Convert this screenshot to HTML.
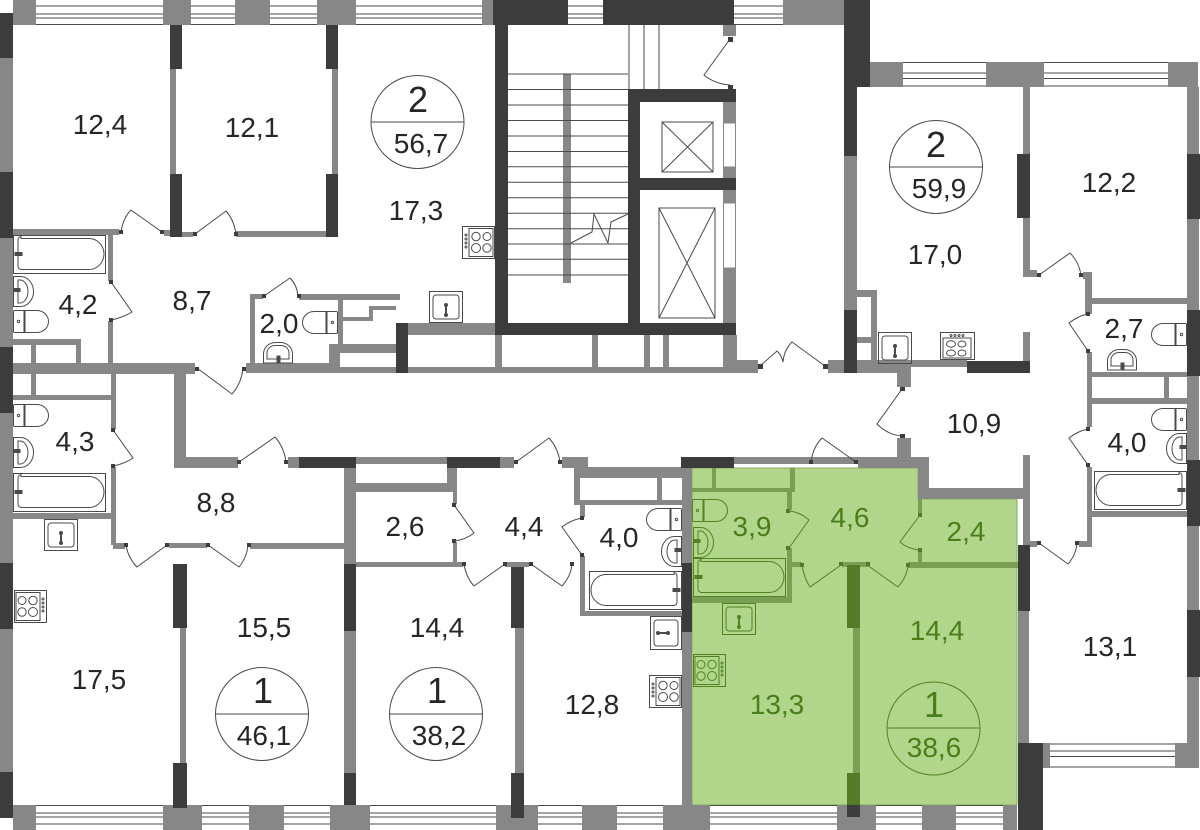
<!DOCTYPE html>
<html><head><meta charset="utf-8"><style>
html,body{margin:0;padding:0;background:#fff}
svg{display:block}
text{font-family:"Liberation Sans",sans-serif;font-size:28px;text-anchor:middle;fill:#262626}
.g text,text.g{fill:#4a7e18}
.big{font-size:36px}
.w{fill:#878787}.d{fill:#3c3c3c}.lg{fill:#7a9f54}.dg{fill:#567a28}
.f{fill:none;stroke:currentColor;stroke-width:1}
.l{fill:none;stroke:#4a4a4a;stroke-width:1}
.lgn{fill:none;stroke:#4f8420;stroke-width:1}
</style></head><body>
<svg width="1200" height="830" viewBox="0 0 1200 830" xmlns="http://www.w3.org/2000/svg">
<defs>
<g id="toilet" class="f"><path d="M1.5,.5h9.500v22h-9.500a1,1 0 0 1-1-1v-20a1,1 0 0 1 1-1z"/><path d="M12,.5h12a11.500,11 0 0 1 0,22h-12z"/><circle cx="5.500" cy="11.500" r="1.200"/></g>
<g id="sinkl" class="f"><path d="M.5,.5h7a13,15 0 0 1 0,30h-7z"/><path d="M5,4h2a8,11.500 0 0 1 0,23h-2z"/><path d="M1,12.500h6v3h-6z" fill="currentColor"/></g>
<g id="sinkb" class="f"><path d="M.5,21v-9a12,11.500 0 0 1 12-11.500h5a12,11.500 0 0 1 12,11.500v9z"/><path d="M4,17v-6a8,7.500 0 0 1 8-7.500h6a8,7.500 0 0 1 8,7.500v6z"/><path d="M14,14h3v7h-3z" fill="currentColor"/></g>
<g id="bath" class="f"><rect x=".5" y=".5" width="92" height="38"/><path d="M8,3.500h68a15,15.500 0 0 1 15,15.500a15,15.500 0 0 1-15,15.500h-68a4,4 0 0 1-3-3v-27a4,4 0 0 1 3-3z"/><path d="M2,17.500h7v3h-7z" fill="currentColor"/></g>
<g id="stove" class="f"><rect x=".5" y=".5" width="32" height="32"/><rect x="7" y="2.500" width="24" height="28"/><circle cx="14" cy="10.500" r="4.200"/><circle cx="25" cy="10.500" r="4"/><circle cx="14" cy="22" r="4.500"/><circle cx="25" cy="22" r="4.200"/><circle cx="4" cy="9" r="1"/><circle cx="4" cy="13" r="1"/><circle cx="4" cy="17" r="1"/><circle cx="4" cy="21" r="1"/></g>
<g id="stoveh" class="f"><rect x=".5" y=".5" width="34" height="27"/><rect x="3" y="6" width="28" height="20"/><ellipse cx="11" cy="12" rx="4.500" ry="3.200"/><ellipse cx="22" cy="12" rx="4" ry="3"/><ellipse cx="11" cy="21" rx="4.500" ry="3"/><ellipse cx="22" cy="21" rx="4" ry="3"/><circle cx="11" cy="3.500" r="1"/><circle cx="15" cy="3.500" r="1"/><circle cx="19" cy="3.500" r="1"/><circle cx="23" cy="3.500" r="1"/></g>
<g id="sq" class="f"><rect x=".5" y=".5" width="33" height="31"/><rect x="4" y="4" width="26" height="24" rx="3"/><path d="M17,13v12" stroke-width="2"/><circle cx="17" cy="14" r="1.500"/><circle cx="17" cy="24" r="1.500"/></g>
</defs>

<!-- green unit -->
<path d="M692,468H918V499H1017V805H692Z" fill="#b1d58a" stroke="#86ad5e" stroke-width="1"/>

<!-- windows -->
<g class="l">
<path d="M36,6H482M36,14H482M36,18H482M36,24.500H482M568,6H603M568,14H603M568,18H603M568,24.500H603M734,6H783M734,14H783M734,18H783M734,24.500H783"/>
<path d="M903,62.500H986M903,73H986M903,78.500H986M903,86H986M1044,62.500H1168M1044,73H1168M1044,78.500H1168M1044,86H1168"/>
<path d="M1050,744H1175M1050,751H1175M1050,756.500H1175M1050,767H1175"/>
<path d="M36,805.500H1003M36,813H1003M36,817H1003M36,824H1003"/>
</g>

<!-- top band -->
<g class="w">
<rect x="13" y="0" width="23" height="25"/><rect x="163" y="0" width="28" height="25"/><rect x="235" y="0" width="35" height="25"/><rect x="317" y="0" width="39" height="25"/><rect x="482" y="0" width="11" height="25"/><rect x="783" y="0" width="61" height="25"/>
<rect x="870" y="62" width="33" height="25"/><rect x="986" y="62" width="58" height="25"/><rect x="1168" y="62" width="30" height="25"/>
<rect x="1043" y="743" width="7" height="25"/><rect x="1175" y="743" width="24" height="25"/>
<rect x="13" y="805" width="23" height="25"/><rect x="163" y="805" width="39" height="25"/><rect x="249" y="805" width="35" height="25"/><rect x="330" y="805" width="40" height="25"/><rect x="496" y="805" width="42" height="25"/><rect x="582" y="805" width="35" height="25"/><rect x="663" y="805" width="47" height="25"/><rect x="837" y="805" width="39" height="25"/><rect x="922" y="805" width="34" height="25"/><rect x="1003" y="805" width="14" height="25"/>

<!-- outer left -->
<rect x="0" y="58" width="13" height="114"/><rect x="0" y="238" width="13" height="109"/><rect x="0" y="413" width="13" height="150"/><rect x="0" y="629" width="13" height="143"/>
<!-- outer right -->
<rect x="1187" y="87" width="12" height="67"/><rect x="1187" y="219" width="12" height="91"/><rect x="1187" y="376" width="12" height="84"/><rect x="1187" y="526" width="12" height="84"/><rect x="1187" y="677" width="12" height="66"/>

<!-- top-left rooms -->
<rect x="170" y="69" width="6" height="105"/><rect x="332" y="69" width="6" height="105"/>
<rect x="236" y="231" width="90" height="6"/><rect x="182" y="232" width="11" height="5"/><rect x="164" y="230" width="6" height="6"/><rect x="13" y="229" width="106" height="6"/>
<rect x="108" y="235" width="5" height="46"/><rect x="108" y="321" width="5" height="42"/>
<rect x="13" y="363" width="182" height="11"/>
<rect x="13" y="339" width="68" height="6"/><rect x="76" y="345" width="5" height="18"/><rect x="31" y="345" width="5" height="50"/>
<rect x="13" y="395" width="98" height="5"/><rect x="111" y="374" width="5" height="55"/><rect x="111" y="467" width="5" height="78"/><rect x="13" y="513" width="98" height="6"/>
<rect x="113" y="543" width="12" height="6"/><rect x="169" y="543" width="38" height="5"/><rect x="250" y="543" width="94" height="6"/>
<rect x="180" y="628" width="6" height="135"/>
<rect x="174" y="374" width="12" height="94"/><rect x="174" y="457" width="64" height="11"/><rect x="288" y="457" width="11" height="11"/>
<rect x="356" y="457" width="91" height="7"/><rect x="344" y="457" width="12" height="107"/><rect x="344" y="631" width="12" height="142"/>
<rect x="356" y="483" width="99" height="9"/><rect x="447" y="468" width="10" height="24"/><rect x="453" y="492" width="4" height="12"/><rect x="453" y="542" width="4" height="20"/>
<rect x="356" y="562" width="107" height="5"/><rect x="505" y="562" width="24" height="5"/><rect x="515" y="628" width="9" height="145"/>
<rect x="500" y="457" width="14" height="11"/><rect x="562" y="457" width="26" height="11"/><rect x="574" y="467" width="108" height="11"/><rect x="574" y="478" width="6" height="26"/><rect x="574" y="500" width="108" height="5"/><rect x="657" y="478" width="5" height="22"/><rect x="580" y="505" width="5" height="12"/><rect x="580" y="556" width="5" height="59"/><rect x="580" y="611" width="102" height="5"/>
<rect x="682" y="468" width="10" height="95"/><rect x="682" y="632" width="10" height="173"/><rect x="734" y="457" width="124" height="7"/>
<!-- corridor -->
<rect x="858" y="457" width="71" height="11"/><rect x="897" y="438" width="14" height="22"/><rect x="918" y="457" width="11" height="42"/><rect x="918" y="488" width="111" height="11"/><rect x="1023" y="455" width="7" height="95"/>
<rect x="1018" y="611" width="11" height="132"/>
<rect x="250" y="295" width="5" height="68"/><rect x="250" y="294" width="13" height="5"/><rect x="299" y="294" width="101" height="6"/><rect x="338" y="300" width="5" height="45"/>
<rect x="343" y="317" width="26" height="4"/><rect x="369" y="306" width="4" height="15"/><rect x="373" y="306" width="23" height="4"/><rect x="329" y="344" width="67" height="9"/><rect x="329" y="344" width="11" height="22"/><rect x="246" y="363" width="94" height="10"/><rect x="340" y="367" width="60" height="6"/>
<rect x="407" y="323" width="88" height="12"/><rect x="407" y="367" width="329" height="6"/><rect x="495" y="335" width="7" height="32"/><rect x="592" y="335" width="6" height="32"/><rect x="644" y="335" width="6" height="32"/><rect x="663" y="335" width="6" height="32"/>
<rect x="723" y="25" width="13" height="11"/><rect x="723" y="102" width="13" height="21"/><rect x="723" y="167" width="13" height="11"/><rect x="723" y="190" width="13" height="13"/><rect x="723" y="268" width="13" height="55"/><rect x="723" y="335" width="14" height="38"/><rect x="737" y="360" width="21" height="13"/>
<rect x="563" y="74" width="8" height="209"/>
<rect x="828" y="360" width="16" height="13"/><rect x="857" y="360" width="40" height="13"/><rect x="897" y="360" width="14" height="27"/><rect x="911" y="360" width="56" height="7"/><rect x="1023" y="332" width="7" height="29"/>
<rect x="844" y="156" width="13" height="154"/><rect x="857" y="290" width="20" height="7"/><rect x="871" y="290" width="6" height="70"/><rect x="857" y="337" width="14" height="6"/>
<rect x="1023" y="87" width="7" height="67"/><rect x="1023" y="218" width="7" height="59"/><rect x="1023" y="270" width="14" height="7"/><rect x="1083" y="272" width="9" height="7"/><rect x="1085" y="272" width="7" height="42"/><rect x="1092" y="298" width="95" height="6"/><rect x="1087" y="352" width="5" height="75"/><rect x="1092" y="372" width="95" height="5"/><rect x="1092" y="398" width="95" height="6"/><rect x="1164" y="377" width="5" height="21"/><rect x="1087" y="467" width="5" height="78"/><rect x="1092" y="511" width="95" height="6"/><rect x="1079" y="541" width="13" height="6"/><rect x="1030" y="541" width="7" height="6"/>
</g>

<!-- dark walls -->
<g class="d">
<rect x="0" y="13" width="13" height="45"/><rect x="0" y="172" width="13" height="66"/><rect x="0" y="347" width="13" height="66"/><rect x="0" y="563" width="13" height="66"/><rect x="0" y="772" width="13" height="46"/>
<rect x="170" y="25" width="12" height="44"/><rect x="170" y="174" width="12" height="63"/><rect x="326" y="25" width="12" height="44"/><rect x="326" y="174" width="12" height="63"/>
<rect x="173" y="564" width="14" height="64"/><rect x="173" y="763" width="14" height="45"/><rect x="344" y="564" width="12" height="67"/><rect x="344" y="773" width="12" height="32"/><rect x="511" y="567" width="13" height="61"/><rect x="511" y="773" width="13" height="45"/>
<rect x="299" y="457" width="57" height="11"/><rect x="447" y="457" width="53" height="11"/><rect x="681" y="457" width="53" height="11"/><rect x="682" y="563" width="10" height="69"/>
<rect x="493" y="0" width="75" height="25"/><rect x="603" y="0" width="131" height="25"/><rect x="495" y="25" width="13" height="310"/><rect x="495" y="323" width="241" height="12"/><rect x="628" y="89" width="12" height="234"/><rect x="628" y="89" width="108" height="13"/><rect x="640" y="178" width="96" height="12"/><rect x="396" y="323" width="12" height="50"/>
<rect x="844" y="0" width="26" height="87"/><rect x="844" y="87" width="13" height="69"/><rect x="844" y="310" width="13" height="63"/><rect x="967" y="361" width="63" height="12"/><rect x="1017" y="154" width="13" height="64"/>
<rect x="1187" y="154" width="13" height="65"/><rect x="1187" y="310" width="13" height="66"/><rect x="1187" y="460" width="13" height="66"/><rect x="1187" y="610" width="13" height="67"/>
<rect x="1018" y="545" width="12" height="66"/><rect x="1018" y="743" width="25" height="87"/><rect x="847" y="805" width="13" height="12"/>
</g>

<!-- lift shaft fixtures -->
<g fill="#fff" stroke="#878787"><rect x="723.500" y="123" width="12" height="44"/><rect x="723.500" y="203" width="12" height="65"/></g>
<g class="l">
<rect x="662" y="122" width="51" height="50"/><path d="M662,122L713,172M713,122L662,172"/>
<rect x="659" y="208" width="56" height="110"/>
<path d="M659,208L715,318M715,208L659,318"/>
<path d="M629,25V89M644,25V89M659,25V89"/>
<path d="M508,74H628M508,89.500H628M508,105H628M508,120.500H628M508,136H628M508,151.500H628M508,166.800H628M508,182.300H628M508,197.700H628M508,213.300H628M508,228.700H628M508,244H628M508,259.300H628M508,275H628"/>
<path d="M571,243L592,232L594,214L608,243L611,222L628,214"/>
</g>

<!-- doors -->
<g class="l">
<path d="M162,232L131,210Q123,218 121,232"/>
<path d="M195,234L226,211Q234,220 236,234"/>
<path d="M111,282L132,312Q122,318 111,320"/>
<path d="M113,430L133,458Q124,464 113,466"/>
<path d="M197,368L232,394Q241,384 243,369"/>
<path d="M239,462L275,437Q284,447 286,462"/>
<path d="M264,296L290,278Q297,285 298,296"/>
<path d="M126,545Q128,558 137,567L167,545"/>
<path d="M208,545L239,567Q247,557 248,545"/>
<path d="M454,505L474,533Q465,540 454,541"/>
<path d="M464,564Q466,577 474,586L505,564"/>
<path d="M531,564L562,586Q571,576 572,564"/>
<path d="M516,462L549,438Q558,448 560,462"/>
<path d="M582,518Q571,520 562,527L582,555"/>
<path d="M730,39L704,75Q715,84 730,85"/>
<path d="M760,366L777,351Q782,356 783,362Q784,350 792,342L825,366"/>
<path d="M902,389L877,424Q888,435 902,436"/>
<path d="M811,462Q813,447 822,438L856,462"/>
<path d="M1039,275L1070,253Q1079,262 1081,275"/>
<path d="M1088,314Q1078,316 1069,323L1088,351"/>
<path d="M1088,429Q1078,431 1069,438L1088,465"/>
<path d="M1077,543Q1076,555 1068,564L1039,543"/>
</g>

<!-- door nodes -->
<g class="d">
<rect x="119" y="230" width="4" height="4"/><rect x="160" y="230" width="4" height="4"/><rect x="193" y="232" width="4" height="4"/><rect x="234" y="232" width="4" height="4"/>
<rect x="109" y="280" width="4" height="4"/><rect x="109" y="318" width="4" height="4"/><rect x="111" y="428" width="4" height="4"/><rect x="111" y="464" width="4" height="4"/>
<rect x="195" y="367" width="4" height="4"/><rect x="242" y="367" width="4" height="4"/><rect x="237" y="460" width="4" height="4"/><rect x="284" y="460" width="4" height="4"/>
<rect x="262" y="294" width="4" height="4"/><rect x="297" y="294" width="4" height="4"/>
<rect x="124" y="543" width="4" height="4"/><rect x="165" y="543" width="4" height="4"/><rect x="206" y="543" width="4" height="4"/><rect x="247" y="543" width="4" height="4"/>
<rect x="452" y="503" width="4" height="4"/><rect x="452" y="539" width="4" height="4"/><rect x="462" y="562" width="4" height="4"/><rect x="503" y="562" width="4" height="4"/><rect x="529" y="562" width="4" height="4"/><rect x="570" y="562" width="4" height="4"/>
<rect x="514" y="460" width="4" height="4"/><rect x="558" y="460" width="4" height="4"/><rect x="580" y="516" width="4" height="4"/><rect x="580" y="553" width="4" height="4"/>
<rect x="728" y="37" width="5" height="5"/><rect x="728" y="85" width="5" height="4"/>
<rect x="758" y="364" width="5" height="5"/><rect x="823" y="364" width="5" height="5"/>
<rect x="900" y="387" width="5" height="4"/><rect x="900" y="434" width="5" height="4"/><rect x="809" y="460" width="4" height="4"/><rect x="854" y="460" width="4" height="4"/>
<rect x="1037" y="273" width="4" height="4"/><rect x="1079" y="273" width="4" height="4"/><rect x="1086" y="312" width="4" height="4"/><rect x="1086" y="349" width="4" height="4"/><rect x="1086" y="427" width="4" height="4"/><rect x="1086" y="463" width="4" height="4"/><rect x="1075" y="541" width="4" height="4"/><rect x="1037" y="541" width="4" height="4"/>
</g>

<!-- fixtures grey -->
<g style="color:#4a4a4a">
<use href="#bath" transform="translate(13,235)"/>
<use href="#sinkl" transform="translate(13,276)"/>
<use href="#toilet" transform="translate(13,310)"/>
<use href="#toilet" transform="translate(13,404)"/>
<use href="#sinkl" transform="translate(13,437)"/>
<use href="#bath" transform="translate(13,473)"/>
<use href="#sq" transform="translate(44,519)"/>
<use href="#stove" transform="translate(47,590) scale(-1,1)"/>
<use href="#toilet" transform="translate(338,311) scale(-1,1)"/>
<use href="#sinkb" transform="translate(263,342)"/>
<use href="#sq" transform="translate(429,291)"/>
<use href="#stove" transform="translate(462,226)"/>
<use href="#toilet" transform="translate(682,508) scale(-1,1)"/>
<use href="#sinkl" transform="translate(682,536) scale(-1,1)"/>
<use href="#bath" transform="translate(682,571) scale(-1,1)"/>
<use href="#sq" transform="translate(682,616) rotate(90)"/>
<use href="#stove" transform="translate(649,675)"/>
<use href="#sq" transform="translate(878,332)"/>
<use href="#stoveh" transform="translate(940,332)"/>
<use href="#toilet" transform="translate(1187,323) scale(-1,1)"/>
<use href="#sinkb" transform="translate(1107,349)"/>
<use href="#toilet" transform="translate(1187,408) scale(-1,1)"/>
<use href="#sinkl" transform="translate(1187,433) scale(-1,1)"/>
<use href="#bath" transform="translate(1187,471) scale(-1,1)"/>
</g>

<!-- green interior -->
<g class="lg">
<rect x="712" y="468" width="4" height="22"/><rect x="790" y="468" width="5" height="22"/><rect x="692" y="488" width="103" height="4"/><rect x="787" y="490" width="5" height="20"/><rect x="787" y="548" width="5" height="55"/><rect x="692" y="597" width="100" height="6"/>
<rect x="792" y="562" width="10" height="5"/><rect x="842" y="562" width="26" height="5"/><rect x="908" y="562" width="110" height="6"/><rect x="918" y="499" width="4" height="15"/><rect x="918" y="550" width="4" height="13"/><rect x="853" y="628" width="7" height="145"/>
</g>
<g class="dg"><rect x="847" y="565" width="13" height="63"/><rect x="847" y="773" width="13" height="32"/>
<rect x="786" y="509" width="4" height="4"/><rect x="786" y="546" width="4" height="4"/><rect x="800" y="563" width="4" height="4"/><rect x="839" y="562" width="4" height="4"/><rect x="866" y="562" width="4" height="4"/><rect x="906" y="563" width="4" height="4"/><rect x="918" y="513" width="4" height="4"/><rect x="918" y="548" width="4" height="4"/></g>
<g class="lgn">
<path d="M789,511Q800,512 809,520L789,548"/>
<path d="M802,565Q804,578 810,587L841,565"/>
<path d="M867,565L898,587Q907,577 908,565"/>
<path d="M920,515L900,542Q908,549 920,550"/>
<circle cx="933.500" cy="728.500" r="46.500"/><path d="M887,728H980"/>
</g>
<g style="color:#4f8420">
<use href="#toilet" transform="translate(692,499)"/>
<use href="#sinkl" transform="translate(693,527)"/>
<use href="#bath" transform="translate(693,558)"/>
<use href="#sq" transform="translate(722,603)"/>
<use href="#stove" transform="translate(726,654) scale(-1,1)"/>
</g>

<!-- circles -->
<g class="l">
<circle cx="417.500" cy="122" r="46.500"/><path d="M371,122H464"/>
<circle cx="936" cy="167" r="46.500"/><path d="M890,167H982"/>
<circle cx="262" cy="714" r="46.500"/><path d="M216,714H309"/>
<circle cx="436" cy="714" r="46.500"/><path d="M390,714H482"/>
</g>

<!-- labels -->
<text x="100" y="134">12,4</text>
<text x="252" y="137">12,1</text>
<text x="418" y="112" class="big">2</text>
<text x="421" y="153">56,7</text>
<text x="416" y="220">17,3</text>
<text x="78" y="314">4,2</text>
<text x="192" y="310">8,7</text>
<text x="279" y="333">2,0</text>
<text x="75" y="451">4,3</text>
<text x="216" y="512">8,8</text>
<text x="405" y="536">2,6</text>
<text x="524" y="536">4,4</text>
<text x="619" y="547">4,0</text>
<text x="974" y="433">10,9</text>
<text x="1124" y="338">2,7</text>
<text x="1127" y="452">4,0</text>
<text x="1109" y="192">12,2</text>
<text x="935" y="264">17,0</text>
<text x="936" y="157" class="big">2</text>
<text x="939" y="198">59,9</text>
<text x="264" y="637">15,5</text>
<text x="99" y="689">17,5</text>
<text x="263" y="703" class="big">1</text>
<text x="264" y="745">46,1</text>
<text x="437" y="637">14,4</text>
<text x="437" y="703" class="big">1</text>
<text x="439" y="745">38,2</text>
<text x="592" y="714">12,8</text>
<text x="1110" y="656">13,1</text>
<g class="g">
<text x="752" y="536">3,9</text>
<text x="850" y="527">4,6</text>
<text x="966" y="541">2,4</text>
<text x="777" y="714">13,3</text>
<text x="937" y="640">14,4</text>
<text x="934" y="717" class="big">1</text>
<text x="934" y="757">38,6</text>
</g>
</svg>
</body></html>
